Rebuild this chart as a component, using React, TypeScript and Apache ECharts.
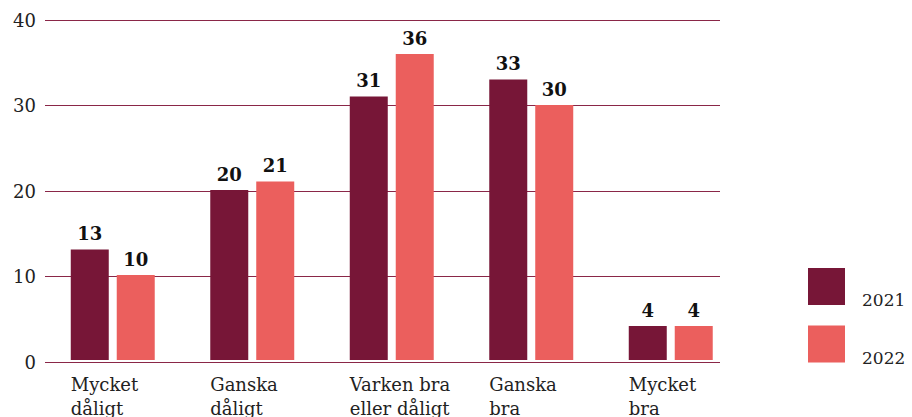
import React, { useEffect, useRef } from "react";
import * as echarts from "echarts";

const categories = ["Mycket\ndåligt", "Ganska\ndåligt", "Varken bra\neller dåligt", "Ganska\nbra", "Mycket\nbra"];
const series2021 = [13, 20, 31, 33, 4];
const series2022 = [10, 21, 36, 30, 4];
const seriesNames = ["2021", "2022"];
const yTicks = { min: 0, max: 40, interval: 10 };

const FONT = "'DejaVu Serif', serif";

export default function App() {
  const ref = useRef<HTMLDivElement>(null);
  useEffect(() => {
    document.body.style.margin = "0";
    const chart = echarts.init(ref.current!, null, { renderer: "svg" });
    const labelCfg = {
      show: true,
      position: "top",
      distance: 7,
      fontFamily: FONT,
      fontWeight: "bold",
      fontSize: 18,
      color: "#111",
    };
    chart.setOption({
      animation: false,
      textStyle: { fontFamily: FONT },
      grid: [
        { left: 45, top: 20, width: 675, height: 342 },
        { left: 43, top: 20, width: 697.5, height: 342 },
      ],
      legend: {
        orient: "vertical",
        left: 808,
        top: 268,
        padding: 0,
        itemWidth: 37,
        itemHeight: 37,
        itemGap: 17,
        icon: "rect",
        data: seriesNames,
        formatter: "{a|{name}}",
        textStyle: {
          fontFamily: FONT,
          fontSize: 17,
          color: "#222",
          rich: { a: { fontFamily: FONT, fontSize: 17, color: "#222", padding: [27, 0, 0, 12] } },
        },
      },
      xAxis: [
        { type: "category", gridIndex: 0, show: false, data: categories },
        {
          type: "category",
          gridIndex: 1,
          data: categories,
          axisLine: { show: false },
          axisTick: { show: false },
          axisLabel: {
            margin: 12,
            formatter: (v: string) => v.split("\n").map((s) => `{a|${s}}`).join("\n"),
            rich: {
              a: { width: 84, align: "left", fontFamily: FONT, fontSize: 18, lineHeight: 24, color: "#222" },
            },
          },
        },
      ],
      yAxis: [
        {
          type: "value",
          gridIndex: 0,
          min: yTicks.min,
          max: yTicks.max,
          interval: yTicks.interval,
          axisLine: { show: false },
          axisTick: { show: false },
          splitLine: { lineStyle: { color: "#8a2748", width: 1 } },
          axisLabel: { fontFamily: FONT, fontSize: 18, color: "#222", margin: 9 },
        },
        {
          type: "value",
          gridIndex: 1,
          min: yTicks.min,
          max: yTicks.max,
          interval: yTicks.interval,
          show: false,
          splitLine: { show: false },
        },
      ],
      series: [
        {
          name: seriesNames[0],
          type: "bar",
          xAxisIndex: 1,
          yAxisIndex: 1,
          data: series2021,
          barWidth: 38,
          barGap: "21%",
          itemStyle: { color: "#771637" },
          label: labelCfg,
        },
        {
          name: seriesNames[1],
          type: "bar",
          xAxisIndex: 1,
          yAxisIndex: 1,
          data: series2022,
          barWidth: 38,
          itemStyle: { color: "#EB5F5D" },
          label: labelCfg,
        },
      ],
    });
    return () => chart.dispose();
  }, []);
  return <div ref={ref} style={{ width: 912, height: 417 }} />;
}
